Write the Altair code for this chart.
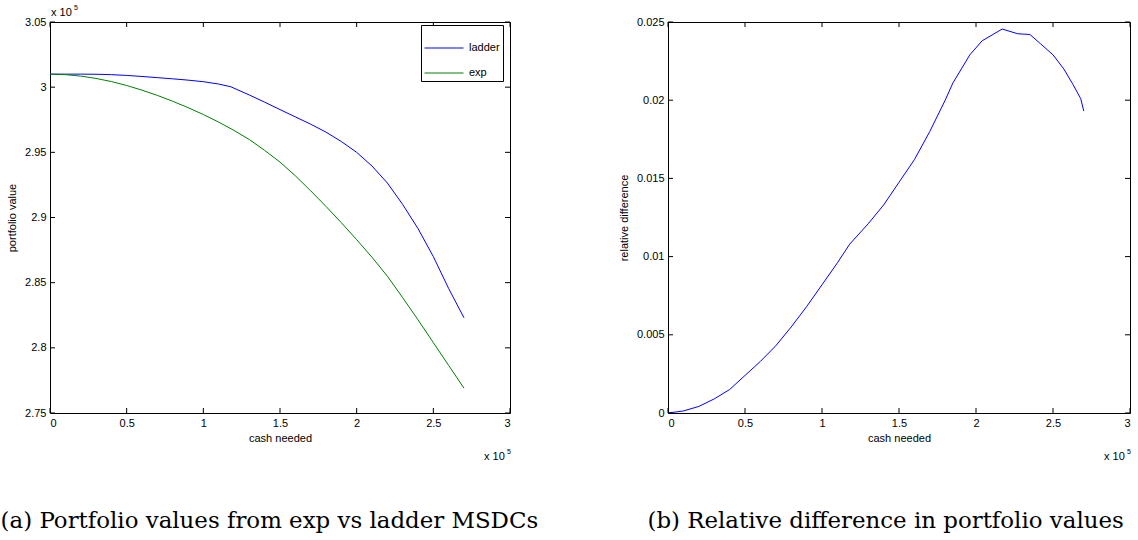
import altair as alt
import pandas as pd

# ---------------- data ----------------
# left panel, both axes in units of 1e5
ladder_cash = [0.0, 0.1, 0.2, 0.3, 0.4, 0.5, 0.6, 0.7, 0.8, 0.9, 1.0, 1.1, 1.18,
               1.2, 1.3, 1.4, 1.5, 1.6, 1.7, 1.8, 1.9, 2.0, 2.1, 2.2, 2.3, 2.4,
               2.5, 2.6, 2.7]
ladder_val = [3.0100, 3.0100, 3.0100, 3.0099, 3.0096, 3.0090, 3.0082, 3.0073,
              3.0064, 3.0054, 3.0042, 3.0024, 3.0003, 2.9992, 2.9940, 2.9885,
              2.9828, 2.9772, 2.9716, 2.9655, 2.9583, 2.9500, 2.9395, 2.9265,
              2.9100, 2.8915, 2.8700, 2.8455, 2.8230]
exp_cash = [0.0, 0.1, 0.2, 0.3, 0.4, 0.5, 0.6, 0.7, 0.8, 0.9, 1.0, 1.1, 1.2,
            1.3, 1.4, 1.5, 1.6, 1.7, 1.8, 1.9, 2.0, 2.1, 2.2, 2.3, 2.4, 2.5,
            2.6, 2.7]
exp_val = [3.0100, 3.0096, 3.0085, 3.0067, 3.0043, 3.0013, 2.9977, 2.9937,
           2.9892, 2.9843, 2.9790, 2.9732, 2.9668, 2.9598, 2.9515, 2.9425,
           2.9320, 2.9205, 2.9085, 2.8960, 2.8830, 2.8695, 2.8550, 2.8385,
           2.8215, 2.8040, 2.7865, 2.7690]

# right panel
rd_cash = [0.0, 0.1, 0.2, 0.3, 0.4, 0.5, 0.6, 0.7, 0.8, 0.9, 1.0, 1.1, 1.18,
           1.3, 1.4, 1.5, 1.6, 1.7, 1.8, 1.85, 1.96, 2.04, 2.17, 2.27, 2.35,
           2.42, 2.5, 2.57, 2.63, 2.68, 2.7]
rd_val = [0.0, 0.00013, 0.00042, 0.0009, 0.0015, 0.0024, 0.0033, 0.0043,
          0.0055, 0.0068, 0.0082, 0.0096, 0.0108, 0.0121, 0.0133, 0.01475,
          0.0162, 0.0180, 0.0200, 0.0211, 0.0229, 0.0238, 0.02455, 0.02425,
          0.0242, 0.0236, 0.0229, 0.0220, 0.0210, 0.0201, 0.0193]

x_ticks = [0, 0.5, 1, 1.5, 2, 2.5, 3]
yl_ticks = [2.75, 2.8, 2.85, 2.9, 2.95, 3.0, 3.05]
yr_ticks = [0, 0.005, 0.01, 0.015, 0.02, 0.025]

series_names = ["ladder", "exp"]
series_colors = ["#0000ff", "#008000"]

caption_a = "(a) Portfolio values from exp vs ladder MSDCs"
caption_b = "(b) Relative difference in portfolio values"

# ---------------- build ----------------
SANS = "Liberation Sans"
SERIF = "DejaVu Serif"
H = 391
WL = 460
WR = 462

left_df = pd.concat([
    pd.DataFrame({"cash": ladder_cash, "value": ladder_val, "series": "ladder"}),
    pd.DataFrame({"cash": exp_cash, "value": exp_val, "series": "exp"}),
])
right_df = pd.DataFrame({"cash": rd_cash, "value": rd_val})

NBSP3 = "\u00a0\u00a0\u00a0"


def panel(df, ydomain, yticks, ytitle, W, caption, cap_dx, with_legend, title_pad):
    xscale = alt.Scale(domain=[0, 3], nice=False, zero=False)
    yscale = alt.Scale(domain=ydomain, nice=False, zero=False)
    xaxis = alt.Axis(values=x_ticks, format="~g", title="cash needed",
                     labelPadding=4, titlePadding=4)
    yaxis = alt.Axis(values=yticks, format="~g", title=ytitle,
                     labelPadding=4, titlePadding=title_pad)
    enc = dict(
        x=alt.X("cash:Q", scale=xscale, axis=xaxis),
        y=alt.Y("value:Q", scale=yscale, axis=yaxis),
    )
    if with_legend:
        enc["color"] = alt.Color(
            "series:N",
            scale=alt.Scale(domain=series_names, range=series_colors),
            legend=alt.Legend(
                title=None, orient="none", legendX=W - 89, legendY=3,
                fillColor="white", strokeColor="black", padding=3,
                symbolType="stroke", symbolSize=1521, symbolStrokeWidth=1,
                labelFont=SANS, labelFontSize=11, labelColor="black",
                rowPadding=0, labelOffset=5,
                labelExpr="datum.label + '" + NBSP3 + "'",
            ),
        )
        lines = alt.Chart(df).mark_line(strokeWidth=1).encode(**enc)
    else:
        lines = alt.Chart(df).mark_line(strokeWidth=1, color="#0000ff").encode(**enc)

    xt = pd.DataFrame({"t": x_ticks})
    yt = pd.DataFrame({"t": yticks})
    rx = alt.X("t:Q", scale=xscale, axis=xaxis)
    ry = alt.Y("t:Q", scale=yscale, axis=yaxis)
    tick_style = dict(color="black", strokeWidth=1)
    t_bottom = alt.Chart(xt).mark_rule(**tick_style).encode(
        x=rx, y=alt.value(H), y2=alt.value(H - 5))
    t_top = alt.Chart(xt).mark_rule(**tick_style).encode(
        x=rx, y=alt.value(0), y2=alt.value(5))
    t_left = alt.Chart(yt).mark_rule(**tick_style).encode(
        y=ry, x=alt.value(0), x2=alt.value(5))
    t_right = alt.Chart(yt).mark_rule(**tick_style).encode(
        y=ry, x=alt.value(W), x2=alt.value(W - 5))

    one = pd.DataFrame({"s": [0]})
    txt = dict(font=SANS, color="black", align="left", baseline="alphabetic")
    mult_b = alt.Chart(one).mark_text(fontSize=11, **txt).encode(
        text=alt.value("x 10"), x=alt.value(W - 26), y=alt.value(H + 47))
    mult_b5 = alt.Chart(one).mark_text(fontSize=7, **txt).encode(
        text=alt.value("5"), x=alt.value(W - 3), y=alt.value(H + 41))
    layers = [lines, t_bottom, t_top, t_left, t_right, mult_b, mult_b5]
    if with_legend:
        mult_t = alt.Chart(one).mark_text(fontSize=11, **txt).encode(
            text=alt.value("x 10"), x=alt.value(1), y=alt.value(-6))
        mult_t5 = alt.Chart(one).mark_text(fontSize=7, **txt).encode(
            text=alt.value("5"), x=alt.value(24), y=alt.value(-12))
        layers += [mult_t, mult_t5]

    return alt.layer(*layers).properties(
        width=W, height=H,
        title=alt.TitleParams(
            text=caption, orient="bottom", anchor="start", dx=cap_dx,
            offset=66, baseline="alphabetic", font=SERIF, fontSize=22.9,
            fontWeight="normal", color="black",
        ),
    )


left = panel(left_df, [2.75, 3.05], yl_ticks, "portfolio value", WL,
             caption_a, -6, True, 7)
right = panel(right_df, [0, 0.025], yr_ticks, "relative difference", WR,
              caption_b, 29, False, 7)

chart = alt.hconcat(left, right, spacing=78).properties(
    padding={"left": 0, "top": 3, "right": 0, "bottom": 0},
    background="white",
).configure_view(
    stroke="black", strokeWidth=1,
).configure_axis(
    labelFont=SANS, labelFontSize=11, labelColor="black",
    titleFont=SANS, titleFontSize=11, titleFontWeight="normal",
    titleColor="black", domain=False, ticks=False, tickSize=0, grid=False,
)

chart.save("out.html", embed_options={"renderer": "svg", "actions": False})
